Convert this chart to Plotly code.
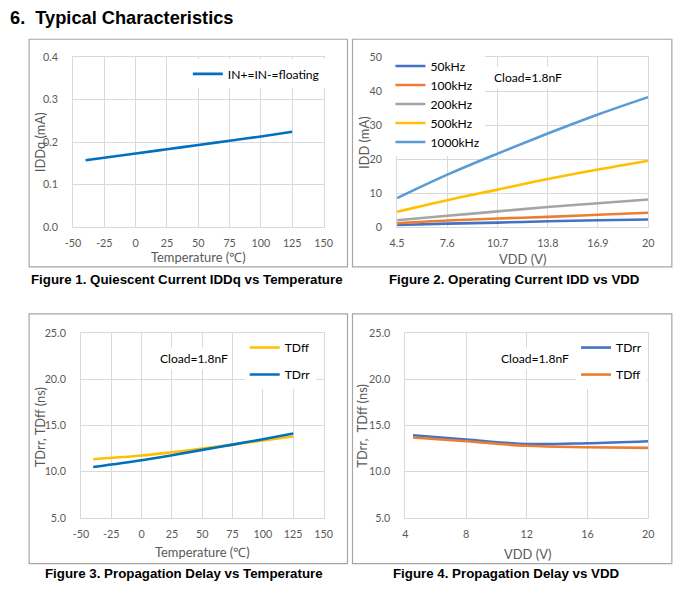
import plotly.graph_objects as go

# ---------------- data ----------------
temp1 = [-40, 0, 25, 50, 75, 100, 125]
iddq = [0.157, 0.173, 0.183, 0.193, 0.203, 0.213, 0.224]

temp_ticks = [-50, -25, 0, 25, 50, 75, 100, 125, 150]
temp_ticktext = ["-50", "-25", "0", "25", "50", "75", "100", "125", "150"]

vdd2 = [4.5, 7.6, 10.7, 13.8, 16.9, 20]
vdd2_ticks = ["4.5", "7.6", "10.7", "13.8", "16.9", "20"]
i_50k = [0.6, 1.0, 1.3, 1.7, 2.0, 2.2]
i_100k = [1.1, 1.9, 2.5, 3.0, 3.6, 4.2]
i_200k = [2.0, 3.3, 4.6, 5.9, 7.0, 8.1]
i_500k = [4.5, 7.9, 11.0, 14.1, 16.9, 19.5]
i_1000k = [8.5, 15.4, 21.6, 27.5, 33.1, 38.2]
freq_names = ["50kHz", "100kHz", "200kHz", "500kHz", "1000kHz"]

temp3 = [-40, 0, 25, 50, 75, 100, 125]
tdff3 = [11.34, 11.74, 12.1, 12.5, 12.93, 13.37, 13.8]
tdrr3 = [10.5, 11.23, 11.78, 12.36, 12.93, 13.51, 14.13]

vdd4 = [4.5, 8, 12, 16, 20]
tdrr4 = [13.95, 13.48, 13.0, 13.08, 13.3]
tdff4 = [13.7, 13.3, 12.8, 12.65, 12.57]

# ---------------- layout helpers ----------------
# The page is photographed with the browser's default 8px body margin and a
# slight overall scale, so window-pixel targets are converted accordingly.
OFF = 8
KX, KY, KF = 697 / 713, 0.9757, 0.9766
W, H = 697, 593


def px(x):
    return (x / KX - OFF) / W


def py(y):
    return 1 - (y / KY - OFF) / H


def fs(s):
    return round(s / KF, 2)


TICKFONT = dict(family="Lato, Carlito, sans-serif", size=fs(10.5), color="#595959")
TITLEFONT = dict(family="Lato, Carlito, sans-serif", size=fs(12.6), color="#595959")
TEXTFONT = dict(family="Lato, Carlito, sans-serif", size=fs(11.8), color="#000000")
CAPFONT = dict(family="Arial, Liberation Sans, sans-serif", size=fs(13.0), color="#000000")
GRID = "#D9D9D9"
LW = 2.6

fig = go.Figure()

# Figure 1
fig.add_trace(go.Scatter(x=temp1, y=iddq, mode="lines", name="IN+=IN-=floating",
                         line=dict(color="#0070C0", width=LW, shape="spline"),
                         xaxis="x", yaxis="y", legend="legend"))
# Figure 2
cols2 = ["#4472C4", "#ED7D31", "#A5A5A5", "#FFC000", "#5B9BD5"]
for name, vals, c in zip(freq_names, [i_50k, i_100k, i_200k, i_500k, i_1000k], cols2):
    fig.add_trace(go.Scatter(x=vdd2, y=vals, mode="lines", name=name,
                             line=dict(color=c, width=LW, shape="spline"),
                             xaxis="x2", yaxis="y2", legend="legend2"))
# Figure 3
fig.add_trace(go.Scatter(x=temp3, y=tdff3, mode="lines", name="TDff", legendgroup="a",
                         line=dict(color="#FFC000", width=LW, shape="spline"),
                         xaxis="x3", yaxis="y3", legend="legend3"))
fig.add_trace(go.Scatter(x=temp3, y=tdrr3, mode="lines", name="TDrr", legendgroup="b",
                         line=dict(color="#0070C0", width=LW, shape="spline"),
                         xaxis="x3", yaxis="y3", legend="legend3"))
# Figure 4
fig.add_trace(go.Scatter(x=vdd4, y=tdrr4, mode="lines", name="TDrr", legendgroup="c",
                         line=dict(color="#4472C4", width=LW, shape="spline"),
                         xaxis="x4", yaxis="y4", legend="legend4"))
fig.add_trace(go.Scatter(x=vdd4, y=tdff4, mode="lines", name="TDff", legendgroup="d",
                         line=dict(color="#ED7D31", width=LW, shape="spline"),
                         xaxis="x4", yaxis="y4", legend="legend4"))


def xax(dom, rng, dtick=None, tickvals=None, ticktext=None, anchor="y"):
    d = dict(domain=[px(dom[0]), px(dom[1])], range=rng, anchor=anchor,
             showgrid=True, gridcolor=GRID, gridwidth=1, zeroline=False,
             showline=True, linecolor=GRID, linewidth=1, mirror=True,
             ticks="", tickfont=TICKFONT, ticklabelstandoff=6, fixedrange=True)
    if tickvals is not None:
        d.update(tickmode="array", tickvals=tickvals, ticktext=ticktext)
    else:
        d.update(tickmode="linear", tick0=rng[0], dtick=dtick)
    return d


def yax(dom, rng, dtick, fmt, anchor):
    return dict(domain=[py(dom[1]), py(dom[0])], range=rng, anchor=anchor,
                showgrid=True, gridcolor=GRID, gridwidth=1, zeroline=False,
                showline=True, linecolor=GRID, linewidth=1, mirror=True,
                ticks="", tickfont=TICKFONT, ticklabelstandoff=12,
                tickmode="linear", tick0=rng[0], dtick=dtick, tickformat=fmt,
                fixedrange=True)


P1 = dict(x=(73, 324), y=(57.7, 227.3))
P2 = dict(x=(397.7, 649.3), y=(57.7, 227.3))
P3 = dict(x=(81, 324), y=(333.3, 517.3))
P4 = dict(x=(406, 649.3), y=(333.3, 517.3))

leg_common = dict(bgcolor="rgba(255,255,255,1)", borderwidth=0,
                  font=TEXTFONT, xanchor="left", yanchor="middle",
                  itemclick=False, itemdoubleclick=False)

fig.update_layout(
    width=W, height=H, margin=dict(l=0, r=0, t=0, b=0),
    paper_bgcolor="white", plot_bgcolor="white",
    xaxis=xax(P1["x"], [-50, 150], tickvals=temp_ticks, ticktext=temp_ticktext, anchor="y"),
    yaxis=yax(P1["y"], [0, 0.4], 0.1, ".1f", "x"),
    xaxis2=xax(P2["x"], [4.5, 20], tickvals=vdd2, ticktext=vdd2_ticks, anchor="y2"),
    yaxis2=yax(P2["y"], [0, 50], 10, "d", "x2"),
    xaxis3=xax(P3["x"], [-50, 150], tickvals=temp_ticks, ticktext=temp_ticktext, anchor="y3"),
    yaxis3=yax(P3["y"], [5, 25], 5, ".1f", "x3"),
    xaxis4=xax(P4["x"], [4, 20], dtick=4, anchor="y4"),
    yaxis4=yax(P4["y"], [5, 25], 5, ".1f", "x4"),
    legend=dict(x=px(188), y=py(74.5), **leg_common),
    legend2=dict(x=px(391), y=py(104.5), **leg_common),
    legend3=dict(x=px(245), y=py(361), tracegroupgap=8, **leg_common),
    legend4=dict(x=px(577), y=py(361), tracegroupgap=8, **leg_common),
    showlegend=True,
)

# panel borders
for (x0, y0, x1, y1) in [(29, 40, 348, 267), (353, 40, 673, 267),
                         (29, 314, 348, 563), (353, 314, 673, 563)]:
    fig.add_shape(type="rect", xref="paper", yref="paper",
                  x0=px(x0), x1=px(x1), y0=py(y1), y1=py(y0),
                  line=dict(color="#A6A6A6", width=1.2), fillcolor="rgba(0,0,0,0)", layer="below")

ann = []
# main title
ann.append(dict(text="<b>6.  Typical Characteristics</b>", x=0, y=py(18), xanchor="left",
                yanchor="middle", showarrow=False, xref="paper", yref="paper",
                font=dict(family="Arial, Liberation Sans, sans-serif", size=fs(17.8), color="#000")))
# captions
for txt, cx, cy in [("Figure 1. Quiescent Current IDDq vs Temperature", 187.5, 280),
                    ("Figure 2. Operating Current IDD vs VDD", 515, 280),
                    ("Figure 3. Propagation Delay vs Temperature", 184.5, 573.3),
                    ("Figure 4. Propagation Delay vs VDD", 507.5, 573.3)]:
    ann.append(dict(text="<b>" + txt + "</b>", x=px(cx), y=py(cy), xanchor="center",
                    yanchor="middle", showarrow=False, font=CAPFONT,
                    xref="paper", yref="paper"))
# axis titles
for txt, cx, cy, rot in [("IDDq (mA)", 40, 142.5, -90), ("Temperature (℃)", 199, 257, 0),
                         ("IDD (mA)", 364.5, 142.5, -90), ("VDD (V)", 523, 259, 0),
                         ("TDrr, TDff (ns)", 40, 427, -90), ("Temperature (℃)", 202.5, 551.5, 0),
                         ("TDrr,  TDff (ns)", 363, 425, -90), ("VDD (V)", 528, 553, 0)]:
    ann.append(dict(text=txt, x=px(cx), y=py(cy), xanchor="center", yanchor="middle",
                    textangle=rot, showarrow=False, font=TITLEFONT,
                    xref="paper", yref="paper"))
# Cload notes
for cx, cy in [(491, 78.3), (156, 358.3), (498, 358.3)]:
    ann.append(dict(text="Cload=1.8nF", x=px(cx), y=py(cy), xanchor="left", yanchor="middle",
                    showarrow=False, font=TEXTFONT, bgcolor="white", borderpad=3,
                    xref="paper", yref="paper"))
fig.update_layout(annotations=ann)

fig.write_html("out.html")
